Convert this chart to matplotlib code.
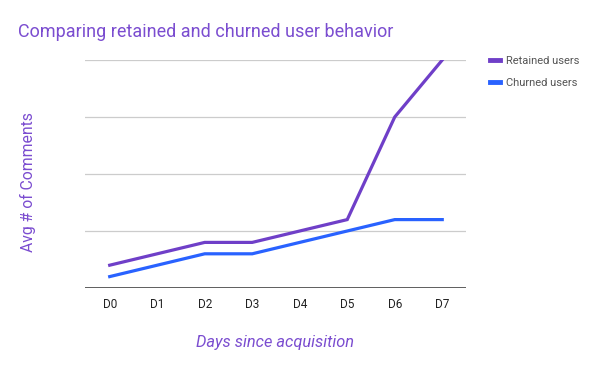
import matplotlib
matplotlib.use("Agg")
import matplotlib.pyplot as plt

# data (units = gridline steps)
days = ["D0", "D1", "D2", "D3", "D4", "D5", "D6", "D7"]
retained = [0.4, 0.6, 0.8, 0.8, 1.0, 1.2, 3.0, 4.0]
churned = [0.2, 0.4, 0.6, 0.6, 0.8, 1.0, 1.2, 1.2]
grid_levels = [1, 2, 3, 4]

purple = "#6f3fc8"
blue = "#2962ff"
title_purple = "#7b4dd0"

plt.rcParams['font.family'] = ['Roboto', 'DejaVu Sans']

fig = plt.figure(figsize=(6, 3.71), dpi=100)
ax = fig.add_axes([85 / 600, 1 - 288 / 371, (466 - 85) / 600, (288 - 60) / 371])

x = list(range(len(days)))
ax.plot(x, retained, color=purple, lw=2.3, label="Retained users", solid_joinstyle="miter")
ax.plot(x, churned, color=blue, lw=2.3, label="Churned users", solid_joinstyle="miter")

# gridlines
for g in grid_levels:
    ax.axhline(g, color="#cccccc", lw=0.9, zorder=0)
ax.axhline(0, color="#333333", lw=1.1, zorder=3)

ax.set_xlim(-0.52, 7.5)
ax.set_ylim(0, 4)
ax.set_xticks(x)
ax.set_xticklabels(days, fontsize=8.5, color="#222222")
ax.tick_params(axis="x", length=0, pad=7)
ax.set_yticks([])
for s in ax.spines.values():
    s.set_visible(False)

fig.text(18 / 600, 1 - 32 / 371, "Comparing retained and churned user behavior",
         fontsize=13, color=title_purple, va="center", ha="left")
fig.text(28 / 600, 1 - 182 / 371, "Avg # of Comments", rotation=90,
         fontsize=11.3, color=title_purple, va="center", ha="center")
fig.text(275 / 600, 1 - 342 / 371, "Days since acquisition", style="italic",
         fontsize=11.8, color=title_purple, va="center", ha="center")

leg = fig.legend(loc="upper left", bbox_to_anchor=(480 / 600, 1 - 46 / 371),
                 frameon=False, fontsize=8, handlelength=0.9, handletextpad=0.5,
                 labelspacing=1.05, labelcolor="#555555")
for h in leg.legend_handles:
    h.set_linewidth(3.5)

fig.savefig("out.png", dpi=100)
